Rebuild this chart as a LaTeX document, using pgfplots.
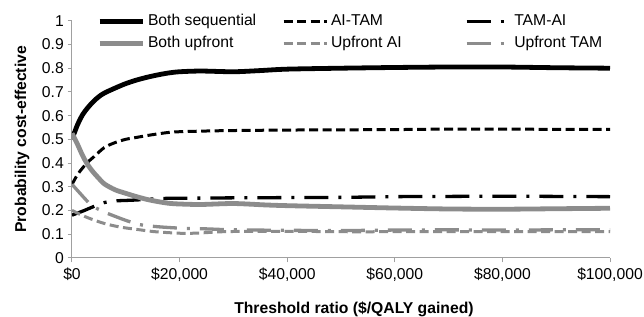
\documentclass[border=0pt]{standalone}
\usepackage{fontspec}
\setmainfont{Liberation Sans}
\usepackage{pgfplots}
\usepackage{pgfplotstable}
\pgfplotsset{compat=1.18}
\definecolor{lgray}{HTML}{8C8C8C}
\definecolor{agray}{HTML}{A0A0A0}

\pgfplotstableread{
x y
0 0.50
1000 0.56
2000 0.605
3000 0.635
4000 0.66
5000 0.68
6000 0.695
8000 0.716
10000 0.735
12000 0.75
14000 0.762
16000 0.772
18000 0.78
20000 0.785
24000 0.788
30000 0.785
35000 0.79
40000 0.796
50000 0.80
60000 0.803
70000 0.805
80000 0.805
90000 0.802
100000 0.80
}\bothseq

\pgfplotstableread{
x y
0 0.31
1000 0.35
2000 0.38
3000 0.405
4000 0.425
6000 0.465
8000 0.486
10000 0.50
12000 0.508
14000 0.516
16000 0.523
18000 0.529
20000 0.532
25000 0.535
30000 0.537
40000 0.539
50000 0.540
60000 0.541
70000 0.543
80000 0.543
90000 0.542
100000 0.542
}\aitam

\pgfplotstableread{
x y
0 0.18
2000 0.197
4000 0.216
6000 0.233
8000 0.24
10000 0.242
12000 0.244
15000 0.248
18000 0.251
25000 0.252
30000 0.253
40000 0.254
50000 0.255
60000 0.258
70000 0.259
80000 0.26
90000 0.259
100000 0.258
}\tamai

\pgfplotstableread{
x y
0 0.525
1000 0.48
2000 0.43
3000 0.39
4000 0.36
5000 0.335
6000 0.312
8000 0.287
10000 0.272
12000 0.258
14000 0.246
16000 0.237
18000 0.23
20000 0.227
24000 0.225
30000 0.229
36000 0.223
40000 0.22
50000 0.215
60000 0.21
70000 0.206
80000 0.205
90000 0.207
100000 0.209
}\bothup

\pgfplotstableread{
x y
0 0.20
2000 0.178
4000 0.16
6000 0.145
8000 0.134
10000 0.126
12000 0.12
15000 0.111
18000 0.106
21000 0.103
24000 0.105
27000 0.109
30000 0.111
40000 0.112
50000 0.11
60000 0.11
70000 0.11
80000 0.11
90000 0.11
100000 0.11
}\upai

\pgfplotstableread{
x y
0 0.31
1500 0.272
3000 0.235
4000 0.216
6000 0.193
8000 0.175
10000 0.158
12600 0.14
16000 0.131
21000 0.124
25000 0.122
30000 0.118
40000 0.116
50000 0.115
60000 0.117
70000 0.118
80000 0.117
90000 0.118
100000 0.118
}\uptam

\begin{document}
\fontsize{15.7bp}{18bp}\selectfont
\begin{tikzpicture}
\path[use as bounding box] (-72bp,-59.2bp) rectangle (572bp,257.8bp);
\begin{axis}[
  scale only axis, width=538bp, height=237bp,
  at={(0,0)}, anchor=south west,
  xmin=0, xmax=100000, ymin=0, ymax=1,
  separate axis lines,
  axis x line*=bottom, axis y line*=left,
  axis line style={-, agray, line width=1bp},
  xtick={0,20000,40000,60000,80000,100000},
  xticklabels={{\$0},{\$20,000},{\$40,000},{\$60,000},{\$80,000},{\$100,000}},
  ytick={0,0.1,0.2,0.3,0.4,0.5,0.6,0.7,0.8,0.9,1},
  yticklabels={0,0.1,0.2,0.3,0.4,0.5,0.6,0.7,0.8,0.9,1},
  tick style={agray, line width=1bp},
  tick align=outside, major tick length=4.5bp,
  scaled x ticks=false,
  ticklabel style={font=\fontsize{15.7bp}{18bp}\selectfont},
  xticklabel style={anchor=base, inner sep=0pt, yshift=-17bp},
  yticklabel style={anchor=east, inner sep=0pt, xshift=-3.5bp},
  xlabel={Threshold ratio (\$/QALY gained)},
  ylabel={Probability cost-effective},
  xlabel style={font=\fontsize{15.7bp}{18bp}\selectfont\bfseries, at={(axis description cs:0.524,0)}, anchor=base, yshift=-55.2bp},
  ylabel style={font=\fontsize{15.7bp}{18bp}\selectfont\bfseries, at={(axis description cs:-0.0855,0.5)}, anchor=base},
  legend columns=3,
  legend image code/.code={\draw[#1] (0bp,0bp) -- (43bp,0bp);},
  legend style={at={(axis description cs:0.0465,1.03)}, anchor=north west,
    draw=none, fill=none, inner sep=0pt, column sep=0pt, row sep=8bp,
    font=\fontsize{15.7bp}{18bp}\selectfont,
    nodes={inner sep=0pt, text height=11.3bp, text depth=3.3bp}},
  legend cell align=left,
  every axis plot/.append style={smooth, tension=0.5},
]
\addplot[black, line width=4.8bp] table {\bothseq};
\addlegendentry{\makebox[137bp][l]{\hspace{3bp}Both sequential}}
\addplot[black, line width=3bp, dash pattern=on 9bp off 4.5bp] table {\aitam};
\addlegendentry{\makebox[137bp][l]{\hspace{3bp}AI-TAM}}
\addplot[black, line width=3.3bp, dash pattern=on 24bp off 10bp on 3bp off 10bp] table {\tamai};
\addlegendentry{\hspace{3bp}TAM-AI}
\addplot[lgray, line width=4.8bp] table {\bothup};
\addlegendentry{\makebox[137bp][l]{\hspace{3bp}Both upfront}}
\addplot[lgray, line width=3bp, dash pattern=on 9bp off 4.5bp] table {\upai};
\addlegendentry{\makebox[137bp][l]{\hspace{3bp}Upfront AI}}
\addplot[lgray, line width=3.3bp, dash pattern=on 24bp off 10bp on 3bp off 10bp] table {\uptam};
\addlegendentry{\hspace{3bp}Upfront TAM}
\end{axis}
\end{tikzpicture}
\end{document}
